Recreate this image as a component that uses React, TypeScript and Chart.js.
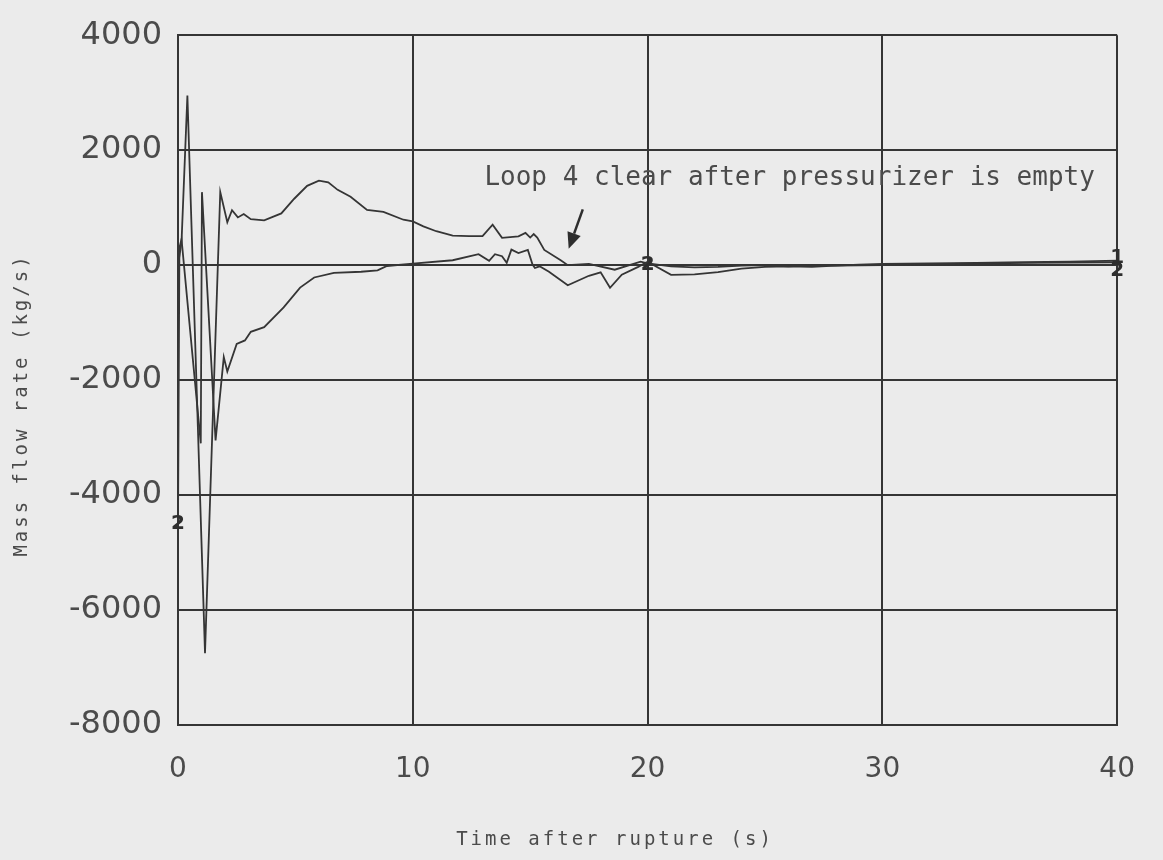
import React, { useEffect, useRef } from "react";
import { Chart, registerables } from "chart.js";

Chart.register(...registerables);

// ---- data ----
const xTickValues = [0, 10, 20, 30, 40];
const yTickValues = [4000, 2000, 0, -2000, -4000, -6000, -8000];

const upperTime = [
  0, 0.15, 0.4, 1.15, 1.8, 2.1, 2.3, 2.55, 2.8, 3.1, 3.67, 4.4, 4.95, 5.5, 6.0, 6.4, 6.8, 7.35,
  8.05, 8.75, 9.6, 10.0, 10.45, 11.0, 11.7, 12.4, 12.97, 13.4, 13.8, 14.5, 14.8, 15.0, 15.15,
  15.3, 15.6, 16.3, 16.6, 17.5, 18.6, 19.7, 20, 21, 22, 23, 24, 25, 26, 27, 28, 29, 30, 32, 34,
  36, 38, 40,
];
const upperFlow = [
  0, 400, 2950, -6750, 1270, 745, 955, 830, 890, 800, 780, 900, 1155, 1380, 1470, 1440, 1310,
  1190, 960, 925, 790, 760, 675, 590, 515, 505, 505, 705, 475, 500, 560, 480, 540, 480, 265, 85,
  0, 20, -80, 60, 30, -20, -40, -30, -10, 0, -20, 0, -10, 10, 20, 30, 40, 50, 60, 80,
];

const lowerTime = [
  0, 0.06, 0.15, 0.97, 1.02, 1.6, 1.95, 2.1, 2.5, 2.85, 3.1, 3.67, 4.5, 5.2, 5.8, 6.64, 7.8,
  8.5, 8.9, 10, 11.7, 12.8, 13.25, 13.5, 13.8, 14.0, 14.2, 14.5, 14.9, 15.1, 15.2, 15.4, 15.8,
  16.6, 17.5, 18.0, 18.4, 18.9, 19.6, 20, 21, 22, 23, 24, 25, 26, 27, 28, 30, 33, 36, 40,
];
const lowerFlow = [
  -4600, 300, 450, -3100, 1270, -3050, -1600, -1850, -1370, -1310, -1160, -1080, -735, -390,
  -215, -135, -115, -90, -15, 25, 85, 190, 75, 190, 155, 40, 270, 210, 265, 10, -50, -20, -115,
  -350, -185, -125, -395, -165, -30, 60, -170, -160, -120, -60, -30, -20, -30, -10, 0, 20, 40,
  50,
];

const annotationText = "Loop 4 clear after pressurizer is empty";
const annotationAt = [13.05, 1520];
const arrowFrom = [17.24, 970];
const arrowTo = [16.64, 285];

const markerTimes = [0, 20, 40, 40];
const markerFlows = [-4500, 0, 120, -90];
const markerLabels = ["2", "2", "1", "2"];

const xTitle = "Time after rupture (s)";
const yTitle = "Mass flow rate (kg/s)";

// ---- styles ----
const INK = "#353535";
const TEXT = "#4b4b4b";
const PAPER = "#ebebeb";

const toPoints = (xs: number[], ys: number[]) => xs.map((x, i) => ({ x, y: ys[i] }));

const decorPlugin = {
  id: "decor",
  beforeDraw(chart: any) {
    const { ctx, width, height } = chart;
    ctx.save();
    ctx.fillStyle = PAPER;
    ctx.fillRect(0, 0, width, height);
    ctx.restore();
  },
  afterDraw(chart: any) {
    const { ctx } = chart;
    const xs = chart.scales.x;
    const ys = chart.scales.y;
    ctx.save();
    // annotation text
    ctx.fillStyle = TEXT;
    ctx.font = "26px 'DejaVu Sans Mono'";
    ctx.textAlign = "left";
    ctx.textBaseline = "middle";
    ctx.fillText(annotationText, xs.getPixelForValue(annotationAt[0]), ys.getPixelForValue(annotationAt[1]));
    // arrow
    const x1 = xs.getPixelForValue(arrowFrom[0]);
    const y1 = ys.getPixelForValue(arrowFrom[1]);
    const x2 = xs.getPixelForValue(arrowTo[0]);
    const y2 = ys.getPixelForValue(arrowTo[1]);
    const ang = Math.atan2(y2 - y1, x2 - x1);
    const hl = 16, hw = 7;
    const bx = x2 - hl * Math.cos(ang);
    const by = y2 - hl * Math.sin(ang);
    ctx.strokeStyle = "#2e2e2e";
    ctx.lineWidth = 2.5;
    ctx.beginPath();
    ctx.moveTo(x1, y1);
    ctx.lineTo(bx, by);
    ctx.stroke();
    ctx.fillStyle = "#2e2e2e";
    ctx.beginPath();
    ctx.moveTo(x2, y2);
    ctx.lineTo(bx + hw * Math.sin(ang), by - hw * Math.cos(ang));
    ctx.lineTo(bx - hw * Math.sin(ang), by + hw * Math.cos(ang));
    ctx.closePath();
    ctx.fill();
    // curve markers
    ctx.font = "bold 20px 'DejaVu Sans'";
    ctx.textAlign = "center";
    ctx.fillStyle = "#2e2e2e";
    markerTimes.forEach((t, i) => {
      ctx.fillText(markerLabels[i], xs.getPixelForValue(t), ys.getPixelForValue(markerFlows[i]));
    });
    // axis titles
    ctx.fillStyle = TEXT;
    ctx.font = "19px 'DejaVu Sans Mono'";
    (ctx as any).letterSpacing = "3px";
    ctx.textAlign = "center";
    ctx.fillText(xTitle, 615, 840);
    ctx.translate(22, 405);
    ctx.rotate(-Math.PI / 2);
    ctx.fillText(yTitle, 0, 0);
    ctx.restore();
  },
};

export default function App() {
  const ref = useRef<HTMLCanvasElement | null>(null);
  useEffect(() => {
    if (!ref.current) return;
    const chart = new Chart(ref.current, {
      type: "scatter",
      data: {
        datasets: [
          {
            data: toPoints(upperTime, upperFlow),
            showLine: true,
            borderColor: INK,
            borderWidth: 1.8,
            pointRadius: 0,
            tension: 0,
          },
          {
            data: toPoints(lowerTime, lowerFlow),
            showLine: true,
            borderColor: INK,
            borderWidth: 1.8,
            pointRadius: 0,
            tension: 0,
          },
        ],
      },
      options: {
        responsive: false,
        animation: false,
        layout: { padding: { left: 8, right: 42, top: 28, bottom: 8 } },
        plugins: { legend: { display: false }, tooltip: { enabled: false } },
        scales: {
          x: {
            type: "linear",
            min: 0,
            max: 40,
            afterBuildTicks: (s: any) => {
              s.ticks = xTickValues.map((v) => ({ value: v }));
            },
            afterFit: (s: any) => {
              s.height = 127;
            },
            grid: { color: INK, lineWidth: 2, drawTicks: false },
            border: { color: INK, width: 2 },
            ticks: {
              padding: 28,
              color: TEXT,
              font: { family: "'DejaVu Sans'", size: 28 },
              callback: (v: any) => String(v),
            },
          },
          y: {
            type: "linear",
            min: -8000,
            max: 4000,
            afterBuildTicks: (s: any) => {
              s.ticks = yTickValues.map((v) => ({ value: v }));
            },
            afterFit: (s: any) => {
              s.width = 170;
            },
            grid: { color: INK, lineWidth: 2, drawTicks: false },
            border: { color: INK, width: 2 },
            ticks: {
              padding: 16,
              color: TEXT,
              font: { family: "'DejaVu Sans'", size: 32 },
              callback: (v: any) => String(v),
            },
          },
        },
      },
      plugins: [decorPlugin],
    });
    return () => chart.destroy();
  }, []);
  return (
    <div style={{ position: "absolute", left: 0, top: 0, width: 1163, height: 860, background: PAPER }}>
      <canvas ref={ref} width={1163} height={860} style={{ display: "block" }} />
    </div>
  );
}
